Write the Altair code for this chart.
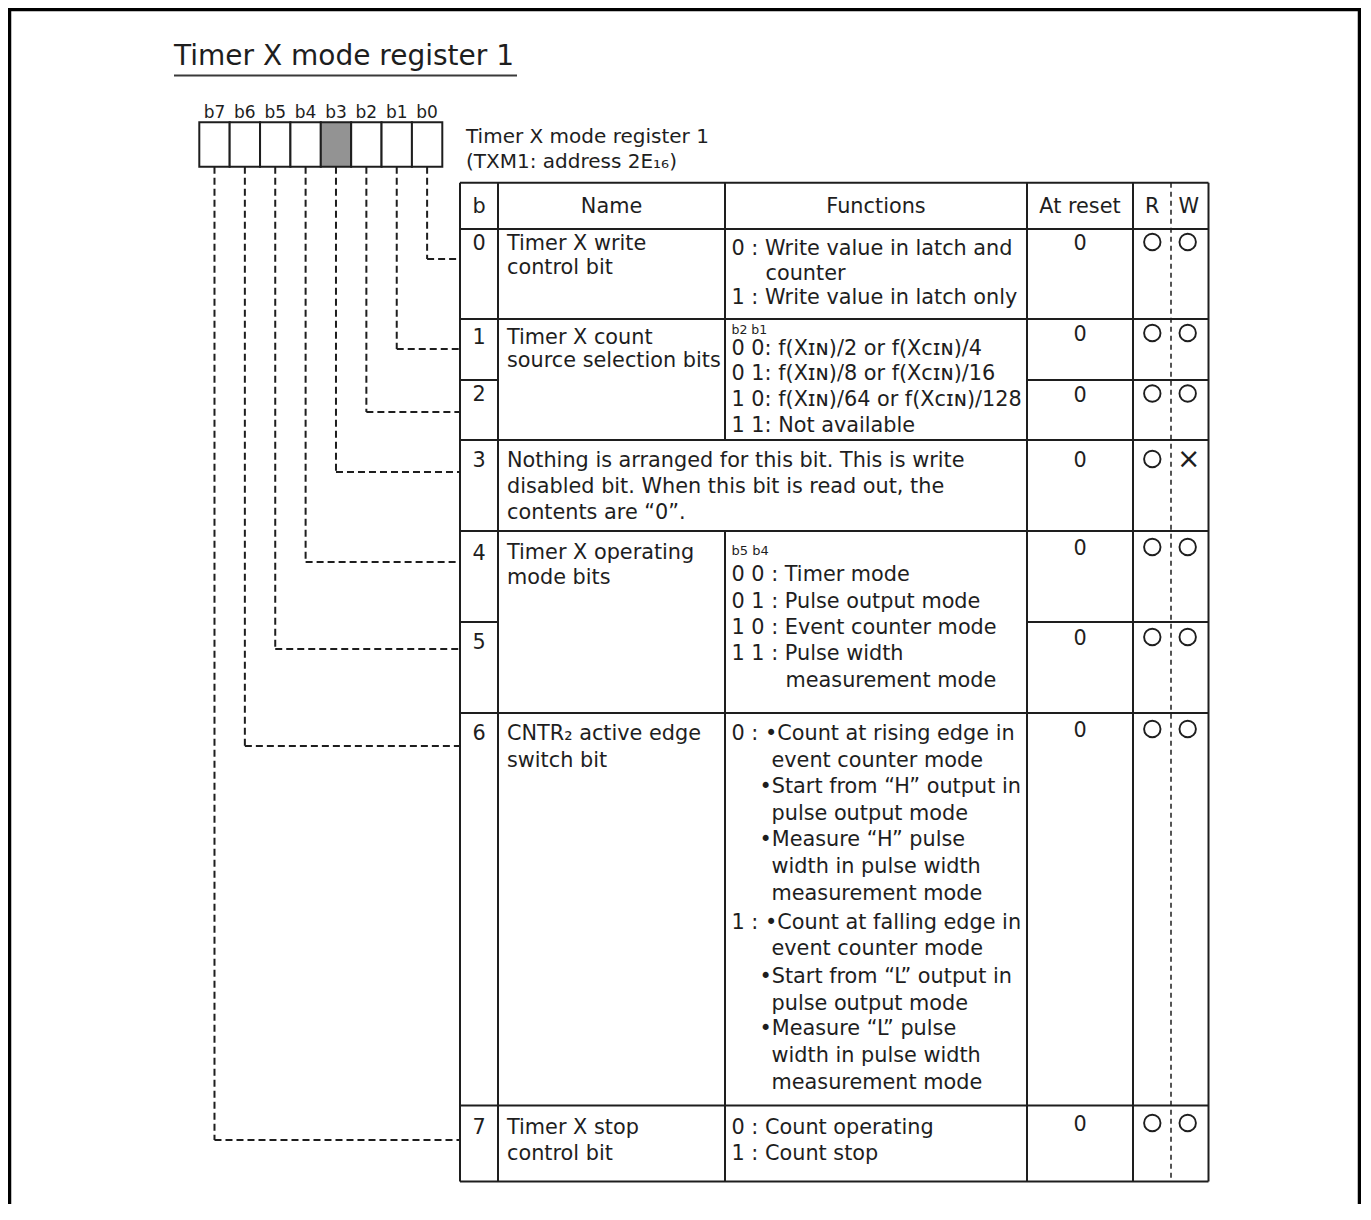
import altair as alt
import pandas as pd

# ---------------- content ----------------
TITLE = "Timer X mode register 1"
BIT_LABELS = ["b7", "b6", "b5", "b4", "b3", "b2", "b1", "b0"]
FIXED_BITS = ["b3"]
REG_NAME = "Timer X mode register 1"
REG_ADDR = "(TXM1: address 2E₁₆)"
HEADERS = ["b", "Name", "Functions", "At reset", "R", "W"]
BITS = ["0", "1", "2", "3", "4", "5", "6", "7"]
RESET = ["0", "0", "0", "0", "0", "0", "0", "0"]
READ = ["○", "○", "○", "○", "○", "○", "○", "○"]
WRITE = ["○", "○", "○", "×", "○", "○", "○", "○"]

NAME_0 = ["Timer X write", "control bit"]
NAME_12 = ["Timer X count", "source selection bits"]
NOTE_3 = ["Nothing is arranged for this bit. This is write",
          "disabled bit. When this bit is read out, the",
          "contents are “0”."]
NAME_45 = ["Timer X operating", "mode bits"]
NAME_6 = ["CNTR₂ active edge", "switch bit"]
NAME_7 = ["Timer X stop", "control bit"]

FUNC_0 = ["0 : Write value in latch and", "counter", "1 : Write value in latch only"]
FUNC_12_HEAD = "b2 b1"
FUNC_12 = ["0 0: f(Xɪɴ)/2 or f(Xᴄɪɴ)/4",
           "0 1: f(Xɪɴ)/8 or f(Xᴄɪɴ)/16",
           "1 0: f(Xɪɴ)/64 or f(Xᴄɪɴ)/128",
           "1 1: Not available"]
FUNC_45_HEAD = "b5 b4"
FUNC_45 = ["0 0 : Timer mode", "0 1 : Pulse output mode", "1 0 : Event counter mode",
           "1 1 : Pulse width", "measurement mode"]
FUNC_6 = ["0 : •Count at rising edge in", "event counter mode",
          "•Start from “H” output in", "pulse output mode",
          "•Measure “H” pulse", "width in pulse width", "measurement mode",
          "1 : •Count at falling edge in", "event counter mode",
          "•Start from “L” output in", "pulse output mode",
          "•Measure “L” pulse", "width in pulse width", "measurement mode"]
FUNC_7 = ["0 : Count operating", "1 : Count stop"]

# ---------------- layout (page pixels) ----------------
W, H = 1353, 1196
X0, Y0 = 8, 8
FONT = "DejaVu Sans"
FS = 20.8
INK = "#1e1e1e"

# table columns
CL, CB, CN, CF, CRS, CRW, CR = 460, 498, 725, 1027, 1133, 1171, 1208.5
# table rows
RT, RH, R0, D12, R2, R3, D45, R5, R6, RB = 182.7, 229, 319, 380, 440, 531, 622, 713, 1105.5, 1181.5

# register box
REG_L, REG_R, REG_T, REG_B = 199.3, 442.3, 122.3, 166.7
cw = (REG_R - REG_L) / 8
cell_cx = [REG_L + cw * (i + 0.5) for i in range(8)]

# connector y for b0..b7 (row of each bit)
CONN_Y = {"b0": 259, "b1": 349, "b2": 412, "b3": 472, "b4": 562, "b5": 649, "b6": 746, "b7": 1140}

NAME_X = 507
FUNC_X = 731.5
BIT_X = (CL + CB) / 2
RESET_X = (CF + CRS) / 2
R_X, W_X = 1152.3, 1187.7

bit_base = [250, 344, 400.5, 467, 560, 649, 740, 1134]
reset_base = [250, 341, 402, 467, 555, 645, 737, 1131]
mark_cy = [242, 333, 393.5, 459, 547, 637, 729, 1123]

texts = []  # x, y (baseline), text, fs, align


def add(x, y, t, fs=FS, align="left"):
    texts.append(dict(x=x, y=y, text=t, fs=fs, align=align))


add(174, 65, TITLE, 28)
for lab, cx in zip(BIT_LABELS, cell_cx):
    add(cx, 118, lab, 17, "center")
add(466, 143, REG_NAME, 20)
add(466, 168, REG_ADDR, 20)

head_x = [BIT_X, (CB + CN) / 2, (CN + CF) / 2, RESET_X, R_X, W_X + 1]
for h, x in zip(HEADERS, head_x):
    add(x, 213, h, FS, "center")

for b, y in zip(BITS, bit_base):
    add(BIT_X, y, b, FS, "center")
for r, y in zip(RESET, reset_base):
    add(RESET_X, y, r, FS, "center")

for t, y in zip(NAME_0, [250, 274]):
    add(NAME_X, y, t)
for t, y in zip(NAME_12, [344, 367]):
    add(NAME_X, y, t)
for t, y in zip(NOTE_3, [467, 493, 519]):
    add(NAME_X, y, t)
for t, y in zip(NAME_45, [559, 584]):
    add(NAME_X, y, t)
for t, y in zip(NAME_6, [740, 767]):
    add(NAME_X, y, t)
for t, y in zip(NAME_7, [1134, 1160]):
    add(NAME_X, y, t)

for t, y, ind in zip(FUNC_0, [255, 280, 304], [0, 34, 0]):
    add(FUNC_X + ind, y, t)
add(FUNC_X, 334, FUNC_12_HEAD, 12.5)
for t, y in zip(FUNC_12, [354.5, 380, 406, 432]):
    add(FUNC_X, y, t)
add(FUNC_X, 555, FUNC_45_HEAD, 13)
for t, y, ind in zip(FUNC_45, [581, 608, 634, 660, 687], [0, 0, 0, 0, 54]):
    add(FUNC_X + ind, y, t)
f6_y = [740, 767, 793, 820, 846, 873, 900, 929, 955, 983, 1010, 1035, 1062, 1089]
f6_ind = [0, 40, 28, 40, 28, 40, 40, 0, 40, 28, 40, 28, 40, 40]
for t, y, ind in zip(FUNC_6, f6_y, f6_ind):
    add(FUNC_X + ind, y, t)
for t, y in zip(FUNC_7, [1134, 1160]):
    add(FUNC_X, y, t)

circles = []
for sym, cy in zip(READ, mark_cy):
    if sym == "○":
        circles.append(dict(x=R_X, y=cy))
    else:
        add(R_X, cy + 9, sym, 28, "center")
for sym, cy in zip(WRITE, mark_cy):
    if sym == "○":
        circles.append(dict(x=W_X, y=cy))
    else:
        add(W_X + 1, cy + 9, sym, 28, "center")

tdf = pd.DataFrame(texts)

# table rules
rules = []
for y in [RT, RH, R0, R2, R3, R5, R6, RB]:
    rules.append(dict(x=CL, x2=CR, y=y, y2=y))
for y in [D12, D45]:
    rules.append(dict(x=CL, x2=CB, y=y, y2=y))
    rules.append(dict(x=CF, x2=CR, y=y, y2=y))
for x in [CL, CB, CF, CRS, CR]:
    rules.append(dict(x=x, x2=x, y=RT, y2=RB))
rules.append(dict(x=CN, x2=CN, y=RT, y2=R2))
rules.append(dict(x=CN, x2=CN, y=R3, y2=RB))
rdf = pd.DataFrame(rules)

rw_df = pd.DataFrame([dict(x=CRW, x2=CRW, y=RT, y2=RB)])

# connectors
conn = []
for lab, cx in zip(BIT_LABELS, cell_cx):
    cy = CONN_Y[lab]
    conn.append(dict(x=cx, x2=cx, y=REG_B, y2=cy))
    conn.append(dict(x=cx, x2=CL, y=cy, y2=cy))
cdf = pd.DataFrame(conn)

# register cells
cells = []
for i, lab in enumerate(BIT_LABELS):
    cells.append(dict(x=REG_L + cw * i, x2=REG_L + cw * (i + 1), y=REG_T, y2=REG_B,
                      fill="#939393" if lab in FIXED_BITS else "#ffffff"))
celldf = pd.DataFrame(cells)

frame = pd.DataFrame([
    dict(x=9.5, x2=9.5, y=Y0, y2=Y0 + H),
    dict(x=X0, x2=X0 + W, y=9.5, y2=9.5),
    dict(x=X0 + W - 1.5, x2=X0 + W - 1.5, y=Y0, y2=Y0 + H),
])
underline = pd.DataFrame([dict(x=174, x2=517, y=75.5, y2=75.5)])

xs = alt.Scale(domain=[X0, X0 + W], range=[0, W], nice=False, zero=False)
ys = alt.Scale(domain=[Y0, Y0 + H], range=[0, H], nice=False, zero=False)


def seg_enc():
    return dict(x=alt.X("x:Q", scale=xs, axis=None),
                x2="x2:Q",
                y=alt.Y("y:Q", scale=ys, axis=None),
                y2="y2:Q")


frame_l = alt.Chart(frame).mark_rule(color="#000000", strokeWidth=3.5).encode(**seg_enc())
under_l = alt.Chart(underline).mark_rule(color="#3a3a3a", strokeWidth=2).encode(**seg_enc())
cell_l = alt.Chart(celldf).mark_rect(stroke=INK, strokeWidth=2).encode(
    fill=alt.Fill("fill:N", scale=None), **seg_enc())
conn_l = alt.Chart(cdf).mark_rule(color=INK, strokeWidth=2, strokeDash=[7, 4]).encode(**seg_enc())
table_l = alt.Chart(rdf).mark_rule(color=INK, strokeWidth=2).encode(**seg_enc())
rw_l = alt.Chart(rw_df).mark_rule(color=INK, strokeWidth=1.5, strokeDash=[5, 4]).encode(**seg_enc())


def text_layer(align):
    d = tdf[tdf["align"] == align]
    return alt.Chart(d).mark_text(align=align, baseline="alphabetic", font=FONT,
                                  color=INK).encode(
        x=alt.X("x:Q", scale=xs, axis=None),
        y=alt.Y("y:Q", scale=ys, axis=None),
        text="text:N",
        size=alt.Size("fs:Q", scale=None, legend=None),
    )


circ_l = alt.Chart(pd.DataFrame(circles)).mark_point(
    shape="circle", size=270, filled=False, color=INK, strokeWidth=1.9, opacity=1
).encode(x=alt.X("x:Q", scale=xs, axis=None), y=alt.Y("y:Q", scale=ys, axis=None))

chart = alt.layer(
    frame_l, under_l, conn_l, cell_l, table_l, rw_l,
    text_layer("left"), text_layer("center"), circ_l
).properties(
    width=W, height=H, padding=0, autosize=alt.AutoSizeParams(type="none"),
    background="#ffffff"
).configure_view(stroke=None)

chart.save("out.html", embed_options={"renderer": "svg", "actions": False})
